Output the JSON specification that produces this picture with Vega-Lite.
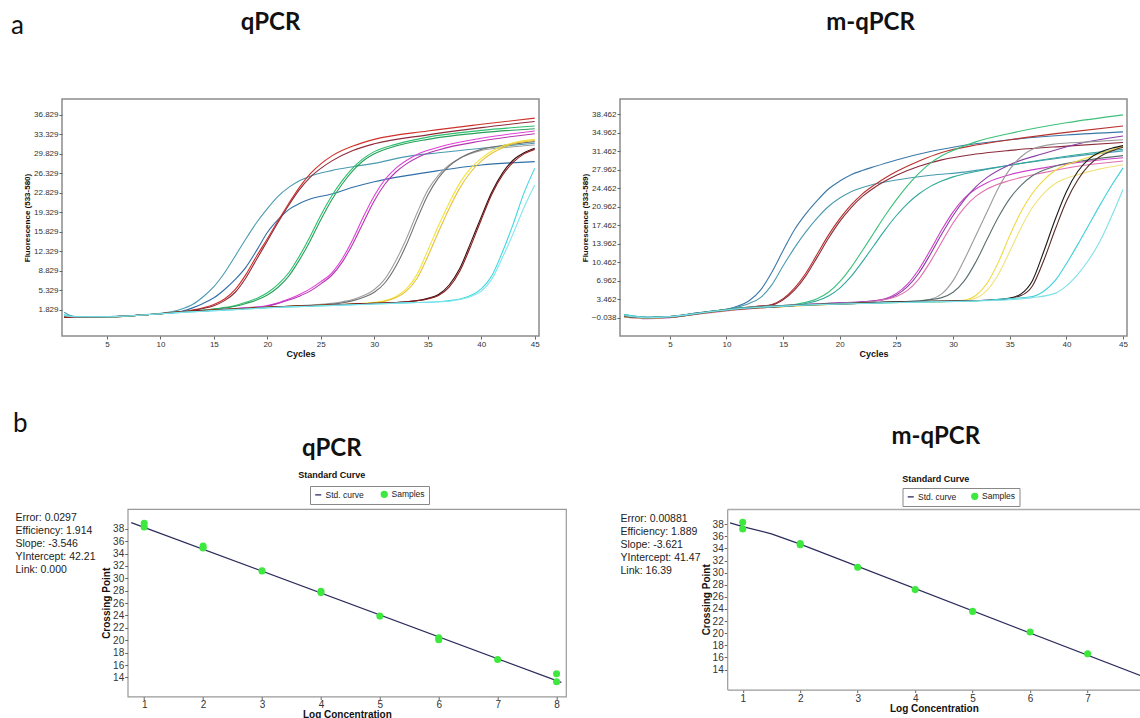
{
"$schema": "https://vega.github.io/schema/vega-lite/v6.json",
"background": "white",
"padding": {"left": 10, "top": 10, "right": 0, "bottom": 0},
"config": {
  "axis": {"labelFont": "Liberation Sans", "titleFont": "Liberation Sans", "labelColor": "#333", "titleColor": "#111", "titleFontWeight": "bold", "grid": false, "domain": false, "tickColor": "#666", "tickWidth": 1, "labelOverlap": false}
},
"datasets": {
"ampL": [
{"c":"tealA","x":1,"y":1.4},{"c":"tealA","x":2,"y":0.6},{"c":"tealA","x":5,"y":0.6},{"c":"tealA","x":8,"y":0.9},{"c":"tealA","x":11,"y":1.5},{"c":"tealA","x":12,"y":2.0},{"c":"tealA","x":13,"y":2.8},{"c":"tealA","x":14,"y":4.2},{"c":"tealA","x":15,"y":6.0},{"c":"tealA","x":16,"y":8.5},{"c":"tealA","x":17,"y":11.5},{"c":"tealA","x":18,"y":14.6},{"c":"tealA","x":19,"y":17.5},{"c":"tealA","x":20,"y":20.0},{"c":"tealA","x":21,"y":22.2},{"c":"tealA","x":22,"y":23.8},{"c":"tealA","x":23,"y":25.0},{"c":"tealA","x":24,"y":25.8},{"c":"tealA","x":26,"y":26.8},{"c":"tealA","x":28,"y":27.5},{"c":"tealA","x":30,"y":28.1},{"c":"tealA","x":33,"y":29.3},{"c":"tealA","x":36,"y":30.0},{"c":"tealA","x":40,"y":30.8},{"c":"tealA","x":45,"y":31.7},
{"c":"tealB","x":1,"y":0.7},{"c":"tealB","x":3,"y":0.6},{"c":"tealB","x":6,"y":0.7},{"c":"tealB","x":9,"y":1.0},{"c":"tealB","x":12,"y":1.6},{"c":"tealB","x":13,"y":2.2},{"c":"tealB","x":14,"y":3.0},{"c":"tealB","x":15,"y":4.0},{"c":"tealB","x":16,"y":5.5},{"c":"tealB","x":17,"y":7.3},{"c":"tealB","x":18,"y":9.5},{"c":"tealB","x":19,"y":12.5},{"c":"tealB","x":20,"y":15.7},{"c":"tealB","x":21,"y":18.0},{"c":"tealB","x":22,"y":19.8},{"c":"tealB","x":23,"y":20.9},{"c":"tealB","x":24,"y":21.7},{"c":"tealB","x":26,"y":22.6},{"c":"tealB","x":28,"y":23.8},{"c":"tealB","x":30,"y":24.8},{"c":"tealB","x":33,"y":25.9},{"c":"tealB","x":36,"y":26.8},{"c":"tealB","x":40,"y":27.8},{"c":"tealB","x":45,"y":28.4},
{"c":"red1","x":1,"y":0.6},{"c":"red1","x":5,"y":0.6},{"c":"red1","x":9,"y":1.0},{"c":"red1","x":12,"y":1.5},{"c":"red1","x":14,"y":2.2},{"c":"red1","x":15,"y":2.8},{"c":"red1","x":16,"y":3.8},{"c":"red1","x":17,"y":5.5},{"c":"red1","x":18,"y":8.2},{"c":"red1","x":19,"y":11.5},{"c":"red1","x":20,"y":14.6},{"c":"red1","x":21,"y":17.8},{"c":"red1","x":22,"y":20.9},{"c":"red1","x":23,"y":23.8},{"c":"red1","x":24,"y":26.2},{"c":"red1","x":25,"y":28.0},{"c":"red1","x":26,"y":29.4},{"c":"red1","x":28,"y":31.2},{"c":"red1","x":30,"y":32.4},{"c":"red1","x":35,"y":33.9},{"c":"red1","x":40,"y":35.1},{"c":"red1","x":45,"y":36.2},
{"c":"red2","x":1,"y":0.5},{"c":"red2","x":5,"y":0.6},{"c":"red2","x":9,"y":1.0},{"c":"red2","x":12,"y":1.5},{"c":"red2","x":14,"y":2.1},{"c":"red2","x":15,"y":2.6},{"c":"red2","x":16,"y":3.5},{"c":"red2","x":17,"y":5.0},{"c":"red2","x":18,"y":7.6},{"c":"red2","x":19,"y":10.9},{"c":"red2","x":20,"y":14.2},{"c":"red2","x":21,"y":17.5},{"c":"red2","x":22,"y":20.6},{"c":"red2","x":23,"y":23.4},{"c":"red2","x":24,"y":25.6},{"c":"red2","x":25,"y":27.2},{"c":"red2","x":26,"y":28.5},{"c":"red2","x":28,"y":30.4},{"c":"red2","x":30,"y":31.6},{"c":"red2","x":35,"y":33.2},{"c":"red2","x":40,"y":34.5},{"c":"red2","x":45,"y":35.6},
{"c":"grn1","x":1,"y":0.6},{"c":"grn1","x":5,"y":0.6},{"c":"grn1","x":9,"y":1.0},{"c":"grn1","x":12,"y":1.5},{"c":"grn1","x":15,"y":2.0},{"c":"grn1","x":17,"y":2.6},{"c":"grn1","x":18,"y":3.2},{"c":"grn1","x":19,"y":3.9},{"c":"grn1","x":20,"y":4.9},{"c":"grn1","x":21,"y":6.4},{"c":"grn1","x":22,"y":8.5},{"c":"grn1","x":23,"y":11.5},{"c":"grn1","x":24,"y":15.0},{"c":"grn1","x":25,"y":18.8},{"c":"grn1","x":26,"y":22.2},{"c":"grn1","x":27,"y":25.0},{"c":"grn1","x":28,"y":27.3},{"c":"grn1","x":29,"y":29.0},{"c":"grn1","x":30,"y":30.2},{"c":"grn1","x":32,"y":31.5},{"c":"grn1","x":35,"y":32.8},{"c":"grn1","x":40,"y":34.0},{"c":"grn1","x":45,"y":34.8},
{"c":"grn2","x":1,"y":0.7},{"c":"grn2","x":5,"y":0.6},{"c":"grn2","x":9,"y":1.0},{"c":"grn2","x":12,"y":1.5},{"c":"grn2","x":15,"y":2.0},{"c":"grn2","x":17,"y":2.5},{"c":"grn2","x":18,"y":3.0},{"c":"grn2","x":19,"y":3.6},{"c":"grn2","x":20,"y":4.5},{"c":"grn2","x":21,"y":5.9},{"c":"grn2","x":22,"y":7.9},{"c":"grn2","x":23,"y":10.8},{"c":"grn2","x":24,"y":14.2},{"c":"grn2","x":25,"y":18.0},{"c":"grn2","x":26,"y":21.5},{"c":"grn2","x":27,"y":24.4},{"c":"grn2","x":28,"y":26.8},{"c":"grn2","x":29,"y":28.6},{"c":"grn2","x":30,"y":29.8},{"c":"grn2","x":32,"y":31.2},{"c":"grn2","x":35,"y":32.4},{"c":"grn2","x":40,"y":33.6},{"c":"grn2","x":45,"y":34.3},
{"c":"mag1","x":1,"y":0.6},{"c":"mag1","x":5,"y":0.6},{"c":"mag1","x":9,"y":1.0},{"c":"mag1","x":12,"y":1.5},{"c":"mag1","x":15,"y":1.8},{"c":"mag1","x":18,"y":2.2},{"c":"mag1","x":20,"y":2.6},{"c":"mag1","x":21,"y":3.1},{"c":"mag1","x":22,"y":3.8},{"c":"mag1","x":23,"y":4.6},{"c":"mag1","x":24,"y":5.6},{"c":"mag1","x":25,"y":6.9},{"c":"mag1","x":26,"y":8.4},{"c":"mag1","x":27,"y":11.0},{"c":"mag1","x":28,"y":14.5},{"c":"mag1","x":29,"y":18.6},{"c":"mag1","x":30,"y":22.3},{"c":"mag1","x":31,"y":25.2},{"c":"mag1","x":32,"y":27.2},{"c":"mag1","x":33,"y":28.6},{"c":"mag1","x":34,"y":29.7},{"c":"mag1","x":36,"y":31.0},{"c":"mag1","x":40,"y":32.6},{"c":"mag1","x":45,"y":33.9},
{"c":"mag2","x":1,"y":0.5},{"c":"mag2","x":5,"y":0.6},{"c":"mag2","x":9,"y":1.0},{"c":"mag2","x":12,"y":1.5},{"c":"mag2","x":15,"y":1.8},{"c":"mag2","x":18,"y":2.2},{"c":"mag2","x":20,"y":2.5},{"c":"mag2","x":21,"y":3.0},{"c":"mag2","x":22,"y":3.6},{"c":"mag2","x":23,"y":4.3},{"c":"mag2","x":24,"y":5.2},{"c":"mag2","x":25,"y":6.5},{"c":"mag2","x":26,"y":8.0},{"c":"mag2","x":27,"y":10.4},{"c":"mag2","x":28,"y":13.7},{"c":"mag2","x":29,"y":17.6},{"c":"mag2","x":30,"y":21.4},{"c":"mag2","x":31,"y":24.4},{"c":"mag2","x":32,"y":26.5},{"c":"mag2","x":33,"y":28.0},{"c":"mag2","x":34,"y":29.1},{"c":"mag2","x":36,"y":30.5},{"c":"mag2","x":40,"y":32.1},{"c":"mag2","x":45,"y":33.4},
{"c":"gry1","x":1,"y":0.6},{"c":"gry1","x":5,"y":0.6},{"c":"gry1","x":9,"y":1.0},{"c":"gry1","x":12,"y":1.5},{"c":"gry1","x":15,"y":1.8},{"c":"gry1","x":18,"y":2.1},{"c":"gry1","x":21,"y":2.4},{"c":"gry1","x":24,"y":2.7},{"c":"gry1","x":26,"y":3.0},{"c":"gry1","x":27,"y":3.3},{"c":"gry1","x":28,"y":3.7},{"c":"gry1","x":29,"y":4.4},{"c":"gry1","x":30,"y":5.5},{"c":"gry1","x":31,"y":7.4},{"c":"gry1","x":32,"y":10.6},{"c":"gry1","x":33,"y":14.6},{"c":"gry1","x":34,"y":19.2},{"c":"gry1","x":35,"y":23.3},{"c":"gry1","x":36,"y":26.0},{"c":"gry1","x":37,"y":27.8},{"c":"gry1","x":38,"y":29.0},{"c":"gry1","x":40,"y":30.4},{"c":"gry1","x":42,"y":30.9},{"c":"gry1","x":45,"y":31.4},
{"c":"gry2","x":1,"y":0.7},{"c":"gry2","x":5,"y":0.6},{"c":"gry2","x":9,"y":1.0},{"c":"gry2","x":12,"y":1.5},{"c":"gry2","x":15,"y":1.8},{"c":"gry2","x":18,"y":2.1},{"c":"gry2","x":21,"y":2.4},{"c":"gry2","x":24,"y":2.6},{"c":"gry2","x":26,"y":2.9},{"c":"gry2","x":27,"y":3.1},{"c":"gry2","x":28,"y":3.5},{"c":"gry2","x":29,"y":4.1},{"c":"gry2","x":30,"y":5.0},{"c":"gry2","x":31,"y":6.7},{"c":"gry2","x":32,"y":9.6},{"c":"gry2","x":33,"y":13.5},{"c":"gry2","x":34,"y":18.1},{"c":"gry2","x":35,"y":22.4},{"c":"gry2","x":36,"y":25.5},{"c":"gry2","x":37,"y":27.6},{"c":"gry2","x":38,"y":29.0},{"c":"gry2","x":40,"y":30.6},{"c":"gry2","x":42,"y":31.3},{"c":"gry2","x":45,"y":32.0},
{"c":"yel1","x":1,"y":0.6},{"c":"yel1","x":5,"y":0.6},{"c":"yel1","x":9,"y":1.0},{"c":"yel1","x":12,"y":1.5},{"c":"yel1","x":15,"y":1.8},{"c":"yel1","x":18,"y":2.1},{"c":"yel1","x":21,"y":2.4},{"c":"yel1","x":24,"y":2.6},{"c":"yel1","x":27,"y":2.8},{"c":"yel1","x":29,"y":3.0},{"c":"yel1","x":30,"y":3.2},{"c":"yel1","x":31,"y":3.5},{"c":"yel1","x":32,"y":4.2},{"c":"yel1","x":33,"y":5.6},{"c":"yel1","x":34,"y":8.2},{"c":"yel1","x":35,"y":12.5},{"c":"yel1","x":36,"y":16.9},{"c":"yel1","x":37,"y":21.0},{"c":"yel1","x":38,"y":24.6},{"c":"yel1","x":39,"y":27.2},{"c":"yel1","x":40,"y":29.0},{"c":"yel1","x":41,"y":30.3},{"c":"yel1","x":42,"y":31.2},{"c":"yel1","x":43,"y":31.8},{"c":"yel1","x":45,"y":32.4},
{"c":"yel2","x":1,"y":0.6},{"c":"yel2","x":5,"y":0.6},{"c":"yel2","x":9,"y":1.0},{"c":"yel2","x":12,"y":1.5},{"c":"yel2","x":15,"y":1.8},{"c":"yel2","x":18,"y":2.1},{"c":"yel2","x":21,"y":2.4},{"c":"yel2","x":24,"y":2.6},{"c":"yel2","x":27,"y":2.8},{"c":"yel2","x":30,"y":3.1},{"c":"yel2","x":31,"y":3.4},{"c":"yel2","x":32,"y":4.0},{"c":"yel2","x":33,"y":5.2},{"c":"yel2","x":34,"y":7.5},{"c":"yel2","x":35,"y":11.4},{"c":"yel2","x":36,"y":15.8},{"c":"yel2","x":37,"y":20.0},{"c":"yel2","x":38,"y":23.7},{"c":"yel2","x":39,"y":26.5},{"c":"yel2","x":40,"y":28.5},{"c":"yel2","x":41,"y":29.9},{"c":"yel2","x":42,"y":30.9},{"c":"yel2","x":43,"y":31.6},{"c":"yel2","x":45,"y":32.2},
{"c":"mar1","x":1,"y":0.6},{"c":"mar1","x":5,"y":0.6},{"c":"mar1","x":9,"y":1.0},{"c":"mar1","x":12,"y":1.5},{"c":"mar1","x":15,"y":1.8},{"c":"mar1","x":18,"y":2.1},{"c":"mar1","x":21,"y":2.4},{"c":"mar1","x":24,"y":2.6},{"c":"mar1","x":27,"y":2.8},{"c":"mar1","x":30,"y":3.0},{"c":"mar1","x":33,"y":3.3},{"c":"mar1","x":34,"y":3.5},{"c":"mar1","x":35,"y":3.9},{"c":"mar1","x":36,"y":4.6},{"c":"mar1","x":37,"y":6.3},{"c":"mar1","x":38,"y":9.3},{"c":"mar1","x":39,"y":13.8},{"c":"mar1","x":40,"y":18.5},{"c":"mar1","x":41,"y":23.0},{"c":"mar1","x":42,"y":26.4},{"c":"mar1","x":43,"y":28.7},{"c":"mar1","x":44,"y":30.0},{"c":"mar1","x":45,"y":30.8},
{"c":"mar2","x":1,"y":0.5},{"c":"mar2","x":5,"y":0.6},{"c":"mar2","x":9,"y":1.0},{"c":"mar2","x":12,"y":1.5},{"c":"mar2","x":15,"y":1.8},{"c":"mar2","x":18,"y":2.1},{"c":"mar2","x":21,"y":2.4},{"c":"mar2","x":24,"y":2.6},{"c":"mar2","x":27,"y":2.8},{"c":"mar2","x":30,"y":3.0},{"c":"mar2","x":33,"y":3.3},{"c":"mar2","x":35,"y":3.8},{"c":"mar2","x":36,"y":4.4},{"c":"mar2","x":37,"y":5.9},{"c":"mar2","x":38,"y":8.8},{"c":"mar2","x":39,"y":13.2},{"c":"mar2","x":40,"y":18.0},{"c":"mar2","x":41,"y":22.6},{"c":"mar2","x":42,"y":26.0},{"c":"mar2","x":43,"y":28.3},{"c":"mar2","x":44,"y":29.8},{"c":"mar2","x":45,"y":30.6},
{"c":"cyn1","x":1,"y":1.0},{"c":"cyn1","x":2,"y":0.6},{"c":"cyn1","x":5,"y":0.6},{"c":"cyn1","x":9,"y":1.0},{"c":"cyn1","x":12,"y":1.4},{"c":"cyn1","x":15,"y":1.7},{"c":"cyn1","x":18,"y":2.0},{"c":"cyn1","x":21,"y":2.3},{"c":"cyn1","x":24,"y":2.5},{"c":"cyn1","x":27,"y":2.7},{"c":"cyn1","x":30,"y":2.9},{"c":"cyn1","x":33,"y":3.1},{"c":"cyn1","x":36,"y":3.3},{"c":"cyn1","x":37,"y":3.5},{"c":"cyn1","x":38,"y":3.8},{"c":"cyn1","x":39,"y":4.4},{"c":"cyn1","x":40,"y":5.6},{"c":"cyn1","x":41,"y":8.0},{"c":"cyn1","x":42,"y":12.3},{"c":"cyn1","x":43,"y":17.3},{"c":"cyn1","x":44,"y":22.8},{"c":"cyn1","x":45,"y":27.2},
{"c":"cyn2","x":1,"y":0.8},{"c":"cyn2","x":2,"y":0.6},{"c":"cyn2","x":5,"y":0.6},{"c":"cyn2","x":9,"y":1.0},{"c":"cyn2","x":12,"y":1.4},{"c":"cyn2","x":15,"y":1.7},{"c":"cyn2","x":18,"y":2.0},{"c":"cyn2","x":21,"y":2.3},{"c":"cyn2","x":24,"y":2.5},{"c":"cyn2","x":27,"y":2.7},{"c":"cyn2","x":30,"y":2.9},{"c":"cyn2","x":33,"y":3.1},{"c":"cyn2","x":36,"y":3.3},{"c":"cyn2","x":37,"y":3.4},{"c":"cyn2","x":38,"y":3.7},{"c":"cyn2","x":39,"y":4.2},{"c":"cyn2","x":40,"y":5.2},{"c":"cyn2","x":41,"y":7.4},{"c":"cyn2","x":42,"y":11.3},{"c":"cyn2","x":43,"y":15.6},{"c":"cyn2","x":44,"y":20.2},{"c":"cyn2","x":45,"y":24.2}
],
"ampR": [
{"c":"tealA","x":1,"y":0.5},{"c":"tealA","x":3,"y":0.0},{"c":"tealA","x":5,"y":0.1},{"c":"tealA","x":7,"y":0.8},{"c":"tealA","x":9,"y":1.3},{"c":"tealA","x":10,"y":1.6},{"c":"tealA","x":11,"y":2.2},{"c":"tealA","x":12,"y":3.2},{"c":"tealA","x":13,"y":5.2},{"c":"tealA","x":14,"y":8.6},{"c":"tealA","x":15,"y":12.7},{"c":"tealA","x":16,"y":16.6},{"c":"tealA","x":17,"y":19.6},{"c":"tealA","x":18,"y":22.1},{"c":"tealA","x":19,"y":24.3},{"c":"tealA","x":20,"y":25.8},{"c":"tealA","x":21,"y":27.0},{"c":"tealA","x":22,"y":27.8},{"c":"tealA","x":23,"y":28.5},{"c":"tealA","x":25,"y":29.8},{"c":"tealA","x":28,"y":31.4},{"c":"tealA","x":30,"y":32.2},{"c":"tealA","x":35,"y":33.6},{"c":"tealA","x":40,"y":34.5},{"c":"tealA","x":45,"y":35.1},
{"c":"tealB","x":1,"y":0.4},{"c":"tealB","x":3,"y":0.0},{"c":"tealB","x":5,"y":0.1},{"c":"tealB","x":7,"y":0.8},{"c":"tealB","x":9,"y":1.3},{"c":"tealB","x":11,"y":2.0},{"c":"tealB","x":12,"y":2.7},{"c":"tealB","x":13,"y":3.8},{"c":"tealB","x":14,"y":6.2},{"c":"tealB","x":15,"y":9.8},{"c":"tealB","x":16,"y":13.2},{"c":"tealB","x":17,"y":16.2},{"c":"tealB","x":18,"y":18.8},{"c":"tealB","x":19,"y":21.0},{"c":"tealB","x":20,"y":22.6},{"c":"tealB","x":21,"y":23.8},{"c":"tealB","x":22,"y":24.6},{"c":"tealB","x":23,"y":25.2},{"c":"tealB","x":25,"y":26.0},{"c":"tealB","x":28,"y":26.9},{"c":"tealB","x":31,"y":27.5},{"c":"tealB","x":35,"y":28.8},{"c":"tealB","x":40,"y":30.3},{"c":"tealB","x":45,"y":31.5},
{"c":"red1","x":1,"y":0.3},{"c":"red1","x":3,"y":-0.1},{"c":"red1","x":5,"y":0.1},{"c":"red1","x":8,"y":1.0},{"c":"red1","x":11,"y":1.8},{"c":"red1","x":13,"y":2.2},{"c":"red1","x":14,"y":2.5},{"c":"red1","x":15,"y":3.6},{"c":"red1","x":16,"y":5.6},{"c":"red1","x":17,"y":8.4},{"c":"red1","x":18,"y":12.0},{"c":"red1","x":19,"y":15.6},{"c":"red1","x":20,"y":18.7},{"c":"red1","x":21,"y":21.3},{"c":"red1","x":22,"y":23.4},{"c":"red1","x":23,"y":25.0},{"c":"red1","x":24,"y":26.4},{"c":"red1","x":25,"y":27.6},{"c":"red1","x":27,"y":29.6},{"c":"red1","x":29,"y":31.2},{"c":"red1","x":32,"y":32.6},{"c":"red1","x":35,"y":33.6},{"c":"red1","x":40,"y":35.0},{"c":"red1","x":45,"y":36.2},
{"c":"red2","x":1,"y":0.2},{"c":"red2","x":3,"y":0.0},{"c":"red2","x":5,"y":0.2},{"c":"red2","x":8,"y":1.0},{"c":"red2","x":11,"y":1.8},{"c":"red2","x":13,"y":2.2},{"c":"red2","x":14,"y":2.4},{"c":"red2","x":15,"y":3.4},{"c":"red2","x":16,"y":5.2},{"c":"red2","x":17,"y":7.9},{"c":"red2","x":18,"y":11.4},{"c":"red2","x":19,"y":15.0},{"c":"red2","x":20,"y":18.2},{"c":"red2","x":21,"y":20.8},{"c":"red2","x":22,"y":22.9},{"c":"red2","x":23,"y":24.5},{"c":"red2","x":24,"y":25.8},{"c":"red2","x":25,"y":26.9},{"c":"red2","x":27,"y":28.6},{"c":"red2","x":29,"y":29.8},{"c":"red2","x":32,"y":30.9},{"c":"red2","x":35,"y":31.6},{"c":"red2","x":40,"y":32.4},{"c":"red2","x":45,"y":33.1},
{"c":"grn1","x":1,"y":0.3},{"c":"grn1","x":3,"y":0.0},{"c":"grn1","x":5,"y":0.1},{"c":"grn1","x":8,"y":1.0},{"c":"grn1","x":11,"y":1.8},{"c":"grn1","x":14,"y":2.2},{"c":"grn1","x":16,"y":2.5},{"c":"grn1","x":17,"y":2.9},{"c":"grn1","x":18,"y":3.6},{"c":"grn1","x":19,"y":4.8},{"c":"grn1","x":20,"y":6.8},{"c":"grn1","x":21,"y":9.5},{"c":"grn1","x":22,"y":12.7},{"c":"grn1","x":23,"y":16.0},{"c":"grn1","x":24,"y":19.3},{"c":"grn1","x":25,"y":22.3},{"c":"grn1","x":26,"y":25.0},{"c":"grn1","x":27,"y":27.3},{"c":"grn1","x":28,"y":29.2},{"c":"grn1","x":29,"y":30.6},{"c":"grn1","x":30,"y":31.6},{"c":"grn1","x":32,"y":33.2},{"c":"grn1","x":35,"y":34.8},{"c":"grn1","x":40,"y":36.8},{"c":"grn1","x":45,"y":38.3},
{"c":"grn2","x":1,"y":0.6},{"c":"grn2","x":3,"y":0.1},{"c":"grn2","x":5,"y":0.2},{"c":"grn2","x":8,"y":1.0},{"c":"grn2","x":11,"y":1.8},{"c":"grn2","x":14,"y":2.2},{"c":"grn2","x":16,"y":2.4},{"c":"grn2","x":17,"y":2.7},{"c":"grn2","x":18,"y":3.2},{"c":"grn2","x":19,"y":4.1},{"c":"grn2","x":20,"y":5.6},{"c":"grn2","x":21,"y":7.8},{"c":"grn2","x":22,"y":10.6},{"c":"grn2","x":23,"y":13.6},{"c":"grn2","x":24,"y":16.6},{"c":"grn2","x":25,"y":19.3},{"c":"grn2","x":26,"y":21.6},{"c":"grn2","x":27,"y":23.4},{"c":"grn2","x":28,"y":24.8},{"c":"grn2","x":29,"y":25.8},{"c":"grn2","x":30,"y":26.6},{"c":"grn2","x":32,"y":27.6},{"c":"grn2","x":35,"y":28.8},{"c":"grn2","x":40,"y":30.5},{"c":"grn2","x":45,"y":31.8},
{"c":"mag","x":1,"y":0.2},{"c":"mag","x":3,"y":-0.2},{"c":"mag","x":5,"y":0.0},{"c":"mag","x":8,"y":0.9},{"c":"mag","x":11,"y":1.6},{"c":"mag","x":14,"y":2.1},{"c":"mag","x":17,"y":2.5},{"c":"mag","x":20,"y":2.8},{"c":"mag","x":22,"y":3.0},{"c":"mag","x":24,"y":3.6},{"c":"mag","x":25,"y":4.6},{"c":"mag","x":26,"y":6.4},{"c":"mag","x":27,"y":9.2},{"c":"mag","x":28,"y":12.8},{"c":"mag","x":29,"y":16.6},{"c":"mag","x":30,"y":20.0},{"c":"mag","x":31,"y":22.6},{"c":"mag","x":32,"y":24.3},{"c":"mag","x":33,"y":25.5},{"c":"mag","x":35,"y":27.0},{"c":"mag","x":38,"y":28.3},{"c":"mag","x":41,"y":29.3},{"c":"mag","x":45,"y":30.2},
{"c":"purp","x":1,"y":0.3},{"c":"purp","x":3,"y":0.0},{"c":"purp","x":5,"y":0.1},{"c":"purp","x":8,"y":0.9},{"c":"purp","x":11,"y":1.6},{"c":"purp","x":14,"y":2.1},{"c":"purp","x":17,"y":2.5},{"c":"purp","x":20,"y":2.8},{"c":"purp","x":22,"y":3.0},{"c":"purp","x":24,"y":3.5},{"c":"purp","x":25,"y":4.3},{"c":"purp","x":26,"y":5.9},{"c":"purp","x":27,"y":8.5},{"c":"purp","x":28,"y":12.0},{"c":"purp","x":29,"y":15.8},{"c":"purp","x":30,"y":19.3},{"c":"purp","x":31,"y":22.3},{"c":"purp","x":32,"y":24.7},{"c":"purp","x":33,"y":26.5},{"c":"purp","x":35,"y":28.9},{"c":"purp","x":38,"y":31.0},{"c":"purp","x":41,"y":32.8},{"c":"purp","x":45,"y":34.3},
{"c":"pink","x":1,"y":0.1},{"c":"pink","x":3,"y":-0.1},{"c":"pink","x":5,"y":0.1},{"c":"pink","x":8,"y":0.8},{"c":"pink","x":11,"y":1.5},{"c":"pink","x":14,"y":2.0},{"c":"pink","x":17,"y":2.4},{"c":"pink","x":20,"y":2.7},{"c":"pink","x":23,"y":3.1},{"c":"pink","x":25,"y":4.0},{"c":"pink","x":26,"y":5.2},{"c":"pink","x":27,"y":7.4},{"c":"pink","x":28,"y":10.6},{"c":"pink","x":29,"y":14.3},{"c":"pink","x":30,"y":17.9},{"c":"pink","x":31,"y":20.8},{"c":"pink","x":32,"y":22.9},{"c":"pink","x":33,"y":24.3},{"c":"pink","x":35,"y":25.9},{"c":"pink","x":38,"y":27.4},{"c":"pink","x":41,"y":28.6},{"c":"pink","x":45,"y":29.6},
{"c":"gry1","x":1,"y":0.4},{"c":"gry1","x":3,"y":0.0},{"c":"gry1","x":5,"y":0.2},{"c":"gry1","x":8,"y":1.0},{"c":"gry1","x":11,"y":1.7},{"c":"gry1","x":14,"y":2.2},{"c":"gry1","x":17,"y":2.5},{"c":"gry1","x":20,"y":2.7},{"c":"gry1","x":23,"y":2.9},{"c":"gry1","x":26,"y":3.0},{"c":"gry1","x":28,"y":3.5},{"c":"gry1","x":29,"y":4.5},{"c":"gry1","x":30,"y":7.0},{"c":"gry1","x":31,"y":11.0},{"c":"gry1","x":32,"y":15.5},{"c":"gry1","x":33,"y":20.0},{"c":"gry1","x":34,"y":24.5},{"c":"gry1","x":35,"y":28.0},{"c":"gry1","x":36,"y":30.4},{"c":"gry1","x":37,"y":31.8},{"c":"gry1","x":39,"y":32.8},{"c":"gry1","x":42,"y":33.2},{"c":"gry1","x":45,"y":33.6},
{"c":"gry2","x":1,"y":0.3},{"c":"gry2","x":3,"y":0.1},{"c":"gry2","x":5,"y":0.2},{"c":"gry2","x":8,"y":1.0},{"c":"gry2","x":11,"y":1.7},{"c":"gry2","x":14,"y":2.2},{"c":"gry2","x":17,"y":2.5},{"c":"gry2","x":20,"y":2.7},{"c":"gry2","x":23,"y":2.9},{"c":"gry2","x":27,"y":3.2},{"c":"gry2","x":29,"y":3.8},{"c":"gry2","x":30,"y":4.8},{"c":"gry2","x":31,"y":7.0},{"c":"gry2","x":32,"y":10.5},{"c":"gry2","x":33,"y":14.8},{"c":"gry2","x":34,"y":19.0},{"c":"gry2","x":35,"y":22.5},{"c":"gry2","x":36,"y":25.0},{"c":"gry2","x":37,"y":26.8},{"c":"gry2","x":39,"y":28.6},{"c":"gry2","x":42,"y":29.8},{"c":"gry2","x":45,"y":30.6},
{"c":"yel1","x":1,"y":0.2},{"c":"yel1","x":3,"y":0.0},{"c":"yel1","x":5,"y":0.1},{"c":"yel1","x":8,"y":0.9},{"c":"yel1","x":11,"y":1.6},{"c":"yel1","x":14,"y":2.0},{"c":"yel1","x":17,"y":2.3},{"c":"yel1","x":20,"y":2.6},{"c":"yel1","x":23,"y":2.8},{"c":"yel1","x":26,"y":2.9},{"c":"yel1","x":29,"y":3.0},{"c":"yel1","x":31,"y":3.3},{"c":"yel1","x":32,"y":4.2},{"c":"yel1","x":33,"y":6.5},{"c":"yel1","x":34,"y":10.5},{"c":"yel1","x":35,"y":15.5},{"c":"yel1","x":36,"y":20.0},{"c":"yel1","x":37,"y":23.5},{"c":"yel1","x":38,"y":26.0},{"c":"yel1","x":39,"y":27.8},{"c":"yel1","x":41,"y":29.6},{"c":"yel1","x":43,"y":31.0},{"c":"yel1","x":45,"y":32.4},
{"c":"yel2","x":1,"y":0.1},{"c":"yel2","x":3,"y":-0.1},{"c":"yel2","x":5,"y":0.1},{"c":"yel2","x":8,"y":0.9},{"c":"yel2","x":11,"y":1.6},{"c":"yel2","x":14,"y":2.0},{"c":"yel2","x":17,"y":2.3},{"c":"yel2","x":20,"y":2.6},{"c":"yel2","x":23,"y":2.8},{"c":"yel2","x":26,"y":2.9},{"c":"yel2","x":30,"y":3.1},{"c":"yel2","x":32,"y":3.7},{"c":"yel2","x":33,"y":5.2},{"c":"yel2","x":34,"y":8.2},{"c":"yel2","x":35,"y":12.5},{"c":"yel2","x":36,"y":17.0},{"c":"yel2","x":37,"y":20.8},{"c":"yel2","x":38,"y":23.5},{"c":"yel2","x":39,"y":25.3},{"c":"yel2","x":41,"y":27.0},{"c":"yel2","x":43,"y":28.1},{"c":"yel2","x":45,"y":28.9},
{"c":"blk1","x":1,"y":0.3},{"c":"blk1","x":3,"y":0.0},{"c":"blk1","x":5,"y":0.2},{"c":"blk1","x":8,"y":1.0},{"c":"blk1","x":11,"y":1.7},{"c":"blk1","x":14,"y":2.1},{"c":"blk1","x":17,"y":2.4},{"c":"blk1","x":20,"y":2.6},{"c":"blk1","x":24,"y":2.9},{"c":"blk1","x":28,"y":3.1},{"c":"blk1","x":31,"y":3.2},{"c":"blk1","x":33,"y":3.3},{"c":"blk1","x":35,"y":3.7},{"c":"blk1","x":36,"y":4.5},{"c":"blk1","x":37,"y":7.0},{"c":"blk1","x":38,"y":12.5},{"c":"blk1","x":39,"y":18.5},{"c":"blk1","x":40,"y":23.8},{"c":"blk1","x":41,"y":27.6},{"c":"blk1","x":42,"y":30.0},{"c":"blk1","x":43,"y":31.3},{"c":"blk1","x":44,"y":32.0},{"c":"blk1","x":45,"y":32.5},
{"c":"blk2","x":1,"y":0.2},{"c":"blk2","x":3,"y":0.0},{"c":"blk2","x":5,"y":0.1},{"c":"blk2","x":8,"y":0.9},{"c":"blk2","x":11,"y":1.6},{"c":"blk2","x":14,"y":2.0},{"c":"blk2","x":17,"y":2.4},{"c":"blk2","x":20,"y":2.6},{"c":"blk2","x":24,"y":2.9},{"c":"blk2","x":28,"y":3.1},{"c":"blk2","x":31,"y":3.2},{"c":"blk2","x":34,"y":3.4},{"c":"blk2","x":36,"y":4.2},{"c":"blk2","x":37,"y":6.0},{"c":"blk2","x":38,"y":10.8},{"c":"blk2","x":39,"y":16.6},{"c":"blk2","x":40,"y":22.0},{"c":"blk2","x":41,"y":26.0},{"c":"blk2","x":42,"y":28.8},{"c":"blk2","x":43,"y":30.5},{"c":"blk2","x":44,"y":31.5},{"c":"blk2","x":45,"y":32.2},
{"c":"cyn1","x":1,"y":0.6},{"c":"cyn1","x":3,"y":0.1},{"c":"cyn1","x":5,"y":0.2},{"c":"cyn1","x":8,"y":1.0},{"c":"cyn1","x":11,"y":1.7},{"c":"cyn1","x":14,"y":2.1},{"c":"cyn1","x":17,"y":2.4},{"c":"cyn1","x":20,"y":2.6},{"c":"cyn1","x":24,"y":2.8},{"c":"cyn1","x":28,"y":3.0},{"c":"cyn1","x":31,"y":3.1},{"c":"cyn1","x":33,"y":3.3},{"c":"cyn1","x":35,"y":3.6},{"c":"cyn1","x":37,"y":4.0},{"c":"cyn1","x":38,"y":5.0},{"c":"cyn1","x":39,"y":7.0},{"c":"cyn1","x":40,"y":10.2},{"c":"cyn1","x":41,"y":13.8},{"c":"cyn1","x":42,"y":17.6},{"c":"cyn1","x":43,"y":21.4},{"c":"cyn1","x":44,"y":25.0},{"c":"cyn1","x":45,"y":28.3},
{"c":"cyn2","x":1,"y":0.4},{"c":"cyn2","x":3,"y":0.0},{"c":"cyn2","x":5,"y":0.2},{"c":"cyn2","x":8,"y":1.0},{"c":"cyn2","x":11,"y":1.7},{"c":"cyn2","x":14,"y":2.1},{"c":"cyn2","x":17,"y":2.4},{"c":"cyn2","x":20,"y":2.6},{"c":"cyn2","x":24,"y":2.8},{"c":"cyn2","x":28,"y":3.0},{"c":"cyn2","x":31,"y":3.1},{"c":"cyn2","x":35,"y":3.4},{"c":"cyn2","x":37,"y":3.8},{"c":"cyn2","x":39,"y":4.6},{"c":"cyn2","x":40,"y":6.0},{"c":"cyn2","x":41,"y":8.2},{"c":"cyn2","x":42,"y":11.0},{"c":"cyn2","x":43,"y":14.6},{"c":"cyn2","x":44,"y":19.2},{"c":"cyn2","x":45,"y":24.2}
],
"lineL": [{"s":"Std. curve","x":0.78,"y":39.0},{"s":"Std. curve","x":8.08,"y":13.2}],
"sampL": [{"s":"Samples","x":1,"y":38.9},{"s":"Samples","x":1,"y":38.3},{"s":"Samples","x":2,"y":35.2},{"s":"Samples","x":2,"y":34.9},{"s":"Samples","x":3,"y":31.2},{"s":"Samples","x":4,"y":27.9},{"s":"Samples","x":4,"y":27.7},{"s":"Samples","x":5,"y":23.9},{"s":"Samples","x":6,"y":20.4},{"s":"Samples","x":6,"y":20.1},{"s":"Samples","x":7,"y":16.9},{"s":"Samples","x":8,"y":14.6},{"s":"Samples","x":8,"y":13.3}],
"lineR": [{"s":"Std. curve","x":0.78,"y":38.2},{"s":"Std. curve","x":1.0,"y":37.6},{"s":"Std. curve","x":1.5,"y":36.4},{"s":"Std. curve","x":2.0,"y":34.7},{"s":"Std. curve","x":7.92,"y":13.0}],
"sampR": [{"s":"Samples","x":1,"y":38.3},{"s":"Samples","x":1,"y":37.2},{"s":"Samples","x":2,"y":34.8},{"s":"Samples","x":2,"y":34.6},{"s":"Samples","x":3,"y":30.9},{"s":"Samples","x":4,"y":27.2},{"s":"Samples","x":5,"y":23.6},{"s":"Samples","x":6,"y":20.2},{"s":"Samples","x":7,"y":16.6}],
"statsL": [{"i":0,"t":"Error: 0.0297"},{"i":1,"t":"Efficiency: 1.914"},{"i":2,"t":"Slope: -3.546"},{"i":3,"t":"YIntercept: 42.21"},{"i":4,"t":"Link: 0.000"}],
"statsR": [{"i":0,"t":"Error: 0.00881"},{"i":1,"t":"Efficiency: 1.889"},{"i":2,"t":"Slope: -3.621"},{"i":3,"t":"YIntercept: 41.47"},{"i":4,"t":"Link: 16.39"}]
},
"columns": 1,
"align": "none",
"spacing": 52,
"resolve": {"scale": {"color": "independent", "fill": "independent", "stroke": "independent", "shape": "independent"}},
"concat": [
{
  "title": {"text": "a", "orient": "left", "anchor": "end", "angle": 0, "align": "right", "baseline": "top", "font": "Lato", "fontSize": 26, "fontWeight": "normal", "color": "#111", "offset": -14, "dy": 3},
  "bounds": "flush",
  "spacing": 81,
  "resolve": {"scale": {"color": "independent"}},
  "hconcat": [
  {
    "width": 477, "height": 237,
    "view": {"stroke": "#8c8c8c", "strokeWidth": 1.5},
    "title": {"text": "qPCR", "font": "Lato", "fontSize": 24, "fontWeight": "bold", "color": "#111", "offset": 64, "anchor": "middle", "frame": "group", "dx": -30},
    "data": {"name": "ampL"},
    "mark": {"type": "line", "strokeWidth": 1.1, "interpolate": "monotone", "clip": true},
    "encoding": {
      "x": {"field": "x", "type": "quantitative", "scale": {"domain": [0.8, 45.4], "nice": false, "zero": false},
            "axis": {"values": [5,10,15,20,25,30,35,40,45], "labelFontSize": 8, "tickSize": 3, "labelPadding": 1, "title": "Cycles", "titleFontSize": 9, "titlePadding": 1}},
      "y": {"field": "y", "type": "quantitative", "scale": {"domain": [-2.84, 39.63], "nice": false, "zero": false},
            "axis": {"values": [1.829,5.329,8.829,12.329,15.829,19.329,22.829,26.329,29.829,33.329,36.829], "format": ".3f", "labelFontSize": 8, "tickSize": 3, "labelPadding": 1, "labelOverlap": false, "title": "Fluorescence (533-580)", "titleFontSize": 8, "titlePadding": 2}},
      "color": {"field": "c", "type": "nominal", "legend": null,
        "scale": {"domain": ["tealA","tealB","red1","red2","grn1","grn2","mag1","mag2","gry1","gry2","yel1","yel2","mar1","mar2","cyn1","cyn2"],
                  "range": ["#4a9bb0","#2f6fa8","#d0302a","#8e2c3c","#2ebf6e","#27a05a","#e040d8","#b534b0","#a0a0a0","#707070","#f2e23e","#e6c23a","#3a0c12","#8a1c1c","#3fd8e2","#80e6ec"]}}
    }
  },
  {
    "width": 507, "height": 237,
    "view": {"stroke": "#8c8c8c", "strokeWidth": 1.5},
    "title": {"text": "m-qPCR", "font": "Lato", "fontSize": 24, "fontWeight": "bold", "color": "#111", "offset": 64, "anchor": "middle", "frame": "group", "dx": -3},
    "data": {"name": "ampR"},
    "mark": {"type": "line", "strokeWidth": 1.1, "interpolate": "monotone", "clip": true},
    "encoding": {
      "x": {"field": "x", "type": "quantitative", "scale": {"domain": [0.6, 45.35], "nice": false, "zero": false},
            "axis": {"values": [5,10,15,20,25,30,35,40,45], "labelFontSize": 8, "tickSize": 3, "labelPadding": 1, "title": "Cycles", "titleFontSize": 9, "titlePadding": 1}},
      "y": {"field": "y", "type": "quantitative", "scale": {"domain": [-3.45, 41.3], "nice": false, "zero": false},
            "axis": {"values": [-0.038,3.462,6.962,10.462,13.962,17.462,20.962,24.462,27.962,31.462,34.962,38.462], "format": ".3f", "labelFontSize": 8, "tickSize": 3, "labelPadding": 1, "labelOverlap": false, "title": "Fluorescence (533-589)", "titleFontSize": 8, "titlePadding": 2}},
      "color": {"field": "c", "type": "nominal", "legend": null,
        "scale": {"domain": ["tealA","tealB","red1","red2","grn1","grn2","mag","purp","pink","gry1","gry2","yel1","yel2","blk1","blk2","cyn1","cyn2"],
                  "range": ["#3a78a8","#4a9bb0","#b8302c","#8b2a3a","#3cc07a","#2fa89a","#d040c8","#8a3fa8","#e070b0","#9a9a9a","#5a7070","#f0d840","#f2e27a","#1a1a1a","#5a2a2a","#40d0d8","#80e0e6"]}}
    }
  }
  ]
},
{
  "title": {"text": "b", "orient": "top", "anchor": "start", "font": "Lato", "fontSize": 26, "fontWeight": "normal", "color": "#111", "offset": -12, "dx": -2},
  "columns": 2,
  "align": "none",
  "spacing": 49.5,
  "resolve": {"scale": {"fill": "independent", "stroke": "independent", "shape": "independent"}},
  "concat": [
  {
    "bounds": "flush",
    "spacing": 64.7,
    "hconcat": [
    {
      "width": 1, "height": 68.6,
      "view": {"stroke": null},
      "data": {"name": "statsL"},
      "mark": {"type": "point", "opacity": 0},
      "encoding": {
        "y": {"field": "t", "type": "ordinal", "sort": null, "scale": {"type": "point", "padding": 0.64},
              "axis": {"title": null, "domain": false, "ticks": false, "tickSize": 0, "labelPadding": 47, "labelAlign": "left", "labelBaseline": "middle", "labelFont": "Liberation Sans", "labelFontSize": 10.5, "labelColor": "#222", "labelLimit": 0}}
      }
    },
    {
      "width": 438.3, "height": 187.6,
      "view": {"stroke": "#999", "strokeWidth": 1.2},
      "title": {"text": "qPCR", "subtitle": "Standard Curve", "font": "Lato", "fontSize": 24, "fontWeight": "bold", "color": "#111", "subtitleFont": "Liberation Sans", "subtitleFontSize": 9, "subtitleFontWeight": "bold", "subtitleColor": "#111", "subtitlePadding": 10, "offset": 29, "anchor": "middle", "frame": "group", "dx": -15},
      "layer": [
        {
          "data": {"name": "lineL"},
          "mark": {"type": "line", "strokeWidth": 1.2},
          "encoding": {
            "x": {"field": "x", "type": "quantitative", "scale": {"domain": [0.72, 8.16], "nice": false, "zero": false},
                  "axis": {"values": [1,2,3,4,5,6,7,8], "format": "d", "labelFontSize": 10, "tickSize": 3, "labelPadding": 0, "title": "Log Concentration", "titleFontSize": 10, "titlePadding": 0}},
            "y": {"field": "y", "type": "quantitative", "scale": {"domain": [10.9, 41.2], "nice": false, "zero": false},
                  "axis": {"values": [14,16,18,20,22,24,26,28,30,32,34,36,38], "format": "d", "labelFontSize": 10, "labelOverlap": false, "labelSeparation": 0, "labelFlush": false, "tickSize": 3, "labelPadding": 1, "title": "Crossing Point", "titleFontSize": 10, "titlePadding": 1}},
            "stroke": {"field": "s", "type": "nominal", "scale": {"domain": ["Std. curve","Samples"], "range": ["#2b2b5c","#3ee83e"]},
                       "legend": {"orient": "none", "legendX": 248, "legendY": -23, "direction": "horizontal", "title": null, "strokeColor": "#888", "padding": 4, "labelFont": "Liberation Sans", "labelFontSize": 8.5, "labelColor": "#222", "symbolSize": 36, "symbolStrokeWidth": 1.3, "columnPadding": 14, "labelOffset": 3}}
          }
        },
        {
          "data": {"name": "sampL"},
          "mark": {"type": "point", "filled": true, "size": 26, "opacity": 1},
          "encoding": {
            "x": {"field": "x", "type": "quantitative",
                  "axis": {"values": [1,2,3,4,5,6,7,8], "format": "d", "labelFontSize": 10, "tickSize": 3, "labelPadding": 0, "title": "Log Concentration", "titleFontSize": 10, "titlePadding": 0}},
            "y": {"field": "y", "type": "quantitative",
                  "axis": {"values": [14,16,18,20,22,24,26,28,30,32,34,36,38], "format": "d", "labelFontSize": 10, "labelOverlap": false, "labelSeparation": 0, "labelFlush": false, "tickSize": 3, "labelPadding": 1, "title": "Crossing Point", "titleFontSize": 10, "titlePadding": 1}},
            "fill": {"field": "s", "type": "nominal", "scale": {"domain": ["Std. curve","Samples"], "range": ["#2b2b5c","#3ee83e"]},
                     "legend": {"orient": "none", "legendX": 248, "legendY": -23, "direction": "horizontal", "title": null, "strokeColor": "#888", "padding": 4, "labelFont": "Liberation Sans", "labelFontSize": 8.5, "labelColor": "#222", "symbolSize": 36, "symbolStrokeWidth": 1.3, "columnPadding": 14, "labelOffset": 3}},
            "stroke": {"field": "s", "type": "nominal", "scale": {"domain": ["Std. curve","Samples"], "range": ["#2b2b5c","#3ee83e"]},
                       "legend": {"orient": "none", "legendX": 248, "legendY": -23, "direction": "horizontal", "title": null, "strokeColor": "#888", "padding": 4, "labelFont": "Liberation Sans", "labelFontSize": 8.5, "labelColor": "#222", "symbolSize": 36, "symbolStrokeWidth": 1.3, "columnPadding": 14, "labelOffset": 3}},
            "shape": {"field": "s", "type": "nominal", "scale": {"domain": ["Std. curve","Samples"], "range": ["stroke","circle"]},
                      "legend": {"orient": "none", "legendX": 248, "legendY": -23, "direction": "horizontal", "title": null, "strokeColor": "#888", "padding": 4, "labelFont": "Liberation Sans", "labelFontSize": 8.5, "labelColor": "#222", "symbolSize": 36, "symbolStrokeWidth": 1.3, "columnPadding": 14, "labelOffset": 3}}
          }
        }
      ]
    }
    ]
  },
  {
    "bounds": "flush",
    "spacing": 102.7,
    "hconcat": [
    {
      "width": 8, "height": 72.5,
      "view": {"stroke": null},
      "data": {"name": "statsR"},
      "mark": {"type": "text", "align": "left", "baseline": "middle", "font": "Liberation Sans", "fontSize": 10.5, "color": "#222"},
      "encoding": {
        "y": {"field": "i", "type": "ordinal", "scale": {"type": "point", "padding": 0.79}, "axis": null},
        "text": {"field": "t"}
      }
    },
    {
      "width": 413.3, "height": 180.6,
      "view": {"stroke": null},
      "title": {"text": "m-qPCR", "subtitle": "Standard Curve", "font": "Lato", "fontSize": 24, "fontWeight": "bold", "color": "#111", "subtitleFont": "Liberation Sans", "subtitleFontSize": 9, "subtitleFontWeight": "bold", "subtitleColor": "#111", "subtitlePadding": 26, "offset": 25, "anchor": "middle", "frame": "group", "dx": 2},
      "resolve": {"axis": {"x": "independent"}},
      "layer": [
        {
          "data": {"name": "lineR"},
          "mark": {"type": "line", "strokeWidth": 1.2},
          "encoding": {
            "x": {"field": "x", "type": "quantitative", "scale": {"domain": [0.73, 7.92], "nice": false, "zero": false},
                  "axis": {"values": [1,2,3,4,5,6,7], "format": "d", "labelFontSize": 10, "tickSize": 3, "labelPadding": 1, "title": "Log Concentration", "titleFontSize": 10, "titlePadding": 0, "domain": true, "domainColor": "#999", "domainWidth": 1.2}},
            "y": {"field": "y", "type": "quantitative", "scale": {"domain": [10.7, 40.5], "nice": false, "zero": false},
                  "axis": {"values": [14,16,18,20,22,24,26,28,30,32,34,36,38], "format": "d", "labelFontSize": 10, "labelOverlap": false, "labelSeparation": 0, "labelFlush": false, "tickSize": 3, "labelPadding": 1, "title": "Crossing Point", "titleFontSize": 10, "titlePadding": 1, "domain": true, "domainColor": "#999", "domainWidth": 1.2}},
            "stroke": {"field": "s", "type": "nominal", "scale": {"domain": ["Std. curve","Samples"], "range": ["#2b2b5c","#3ee83e"]},
                       "legend": {"orient": "none", "legendX": 286, "legendY": -21, "direction": "horizontal", "title": null, "strokeColor": "#888", "padding": 4, "labelFont": "Liberation Sans", "labelFontSize": 8.5, "labelColor": "#222", "symbolSize": 36, "symbolStrokeWidth": 1.3, "columnPadding": 12, "labelOffset": 3}}
          }
        },
        {
          "data": {"name": "sampR"},
          "mark": {"type": "point", "filled": true, "size": 26, "opacity": 1},
          "encoding": {
            "x": {"field": "x", "type": "quantitative", "axis": {"orient": "top", "labels": false, "ticks": false, "title": null, "domain": true, "domainColor": "#aaa", "domainWidth": 1.5}},
            "y": {"field": "y", "type": "quantitative",
                  "axis": {"values": [14,16,18,20,22,24,26,28,30,32,34,36,38], "format": "d", "labelFontSize": 10, "labelOverlap": false, "labelSeparation": 0, "labelFlush": false, "tickSize": 3, "labelPadding": 1, "title": "Crossing Point", "titleFontSize": 10, "titlePadding": 1, "domain": true, "domainColor": "#999", "domainWidth": 1.2}},
            "fill": {"field": "s", "type": "nominal", "scale": {"domain": ["Std. curve","Samples"], "range": ["#2b2b5c","#3ee83e"]},
                     "legend": {"orient": "none", "legendX": 286, "legendY": -21, "direction": "horizontal", "title": null, "strokeColor": "#888", "padding": 4, "labelFont": "Liberation Sans", "labelFontSize": 8.5, "labelColor": "#222", "symbolSize": 36, "symbolStrokeWidth": 1.3, "columnPadding": 12, "labelOffset": 3}},
            "stroke": {"field": "s", "type": "nominal", "scale": {"domain": ["Std. curve","Samples"], "range": ["#2b2b5c","#3ee83e"]},
                       "legend": {"orient": "none", "legendX": 286, "legendY": -21, "direction": "horizontal", "title": null, "strokeColor": "#888", "padding": 4, "labelFont": "Liberation Sans", "labelFontSize": 8.5, "labelColor": "#222", "symbolSize": 36, "symbolStrokeWidth": 1.3, "columnPadding": 12, "labelOffset": 3}},
            "shape": {"field": "s", "type": "nominal", "scale": {"domain": ["Std. curve","Samples"], "range": ["stroke","circle"]},
                      "legend": {"orient": "none", "legendX": 286, "legendY": -21, "direction": "horizontal", "title": null, "strokeColor": "#888", "padding": 4, "labelFont": "Liberation Sans", "labelFontSize": 8.5, "labelColor": "#222", "symbolSize": 36, "symbolStrokeWidth": 1.3, "columnPadding": 12, "labelOffset": 3}}
          }
        }
      ]
    }
    ]
  }
  ]
}
]
}
